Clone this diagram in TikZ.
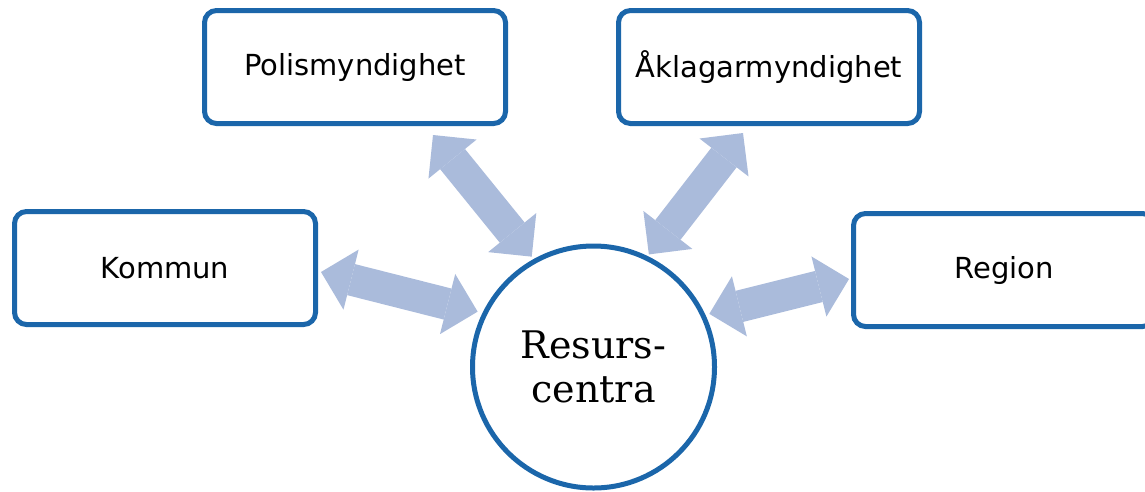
\documentclass[tikz,border=0pt]{standalone}
\usepackage{fontspec}
\setmainfont{DejaVu Sans}
\newfontfamily\centrefont{DejaVu Serif}
\usetikzlibrary{arrows.meta}
\definecolor{boxblue}{HTML}{1B66AA}
\definecolor{arrowblue}{HTML}{AABBDB}
\tikzset{
    org-box/.style = {draw=boxblue, fill=white, line width=5pt, rectangle, rounded corners=12pt, minimum width=301pt, minimum height=113pt, font=\fontsize{29}{34}\selectfont},
    centre-circle/.style = {draw=boxblue, fill=white, line width=5pt, circle, minimum size=242pt, inner sep=0pt, align=center, font=\centrefont\fontsize{38}{44}\selectfont},
    link-arrow/.style = {draw=arrowblue, line width=32pt, {Triangle[width=62pt,length=31pt,line width=0pt]}-{Triangle[width=62pt,length=31pt,line width=0pt]}},
}
\begin{document}
\begin{tikzpicture}[x=1pt,y=-1pt]
\clip (0,0) rectangle (1145,491);
\node [org-box] (polis) at (355,67) {Polismyndighet};
\node [org-box] (akl) at (769,67) {Åklagarmyndighet};
\node [org-box] (kommun) at (165,268) {Kommun};
\node [org-box] (region) at (1004,270) {Region};
\node [centre-circle] (centrum) at (593.5,367) {Resurs-\\centra};
% double arrows between the authorities and the centre
\draw [link-arrow, shorten >=5pt] ([xshift=3pt,yshift=-4pt]kommun.east) -- (centrum.154);
\draw [link-arrow, shorten >=3pt] ([xshift=78pt,yshift=-9pt]polis.south) -- (centrum.119);
\draw [link-arrow, shorten >=2pt] ([xshift=-26pt,yshift=-7pt]akl.south) -- (centrum.64);
\draw [link-arrow, shorten <=4pt] (centrum.25) -- ([xshift=-2pt,yshift=-9pt]region.west);
\end{tikzpicture}
\end{document}
